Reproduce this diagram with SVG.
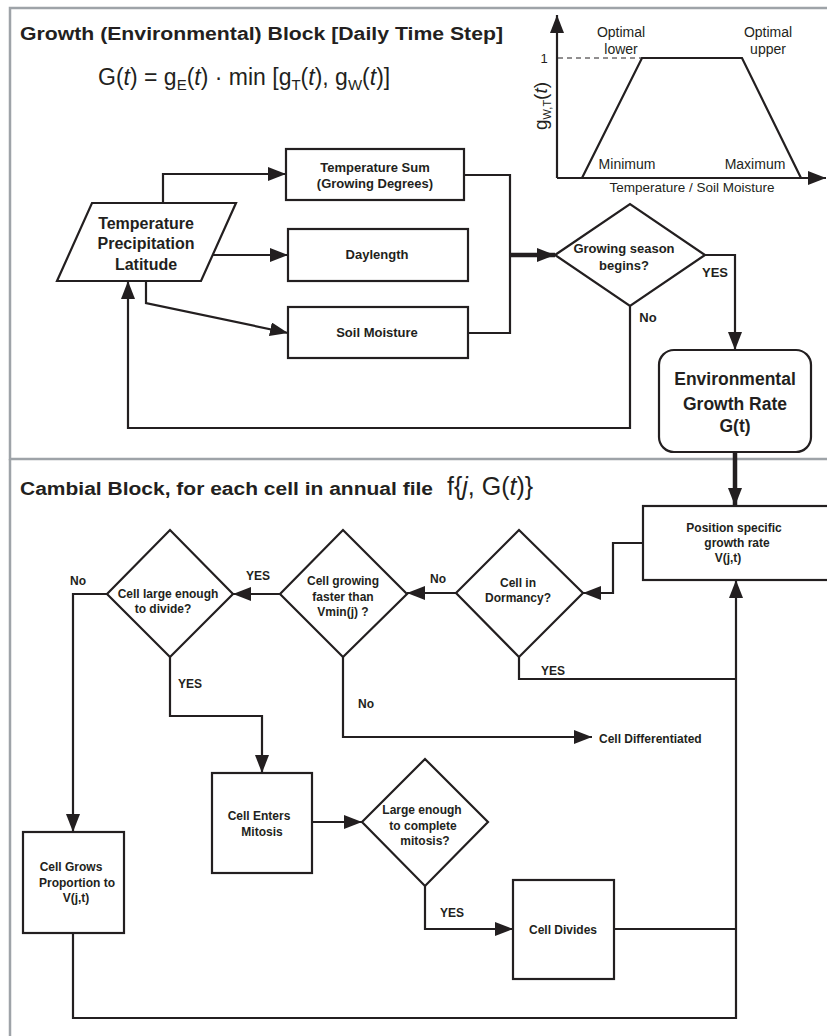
<svg xmlns="http://www.w3.org/2000/svg" width="827" height="1036" viewBox="0 0 827 1036">
<defs>
<style>
.bg{fill:#ffffff}
.panel{fill:none;stroke:#9ea3a8;stroke-width:2.5}
.ln{fill:none;stroke:#231f20;stroke-width:2.2}
.thick{fill:none;stroke:#231f20;stroke-width:4.5}
.box{fill:#ffffff;stroke:#231f20;stroke-width:2.2}
.dash{fill:none;stroke:#231f20;stroke-width:1;stroke-dasharray:5 4}
text{font-family:"Liberation Sans",Arial,sans-serif;fill:#231f20}
.b{font-weight:bold}
.c{text-anchor:middle}
.s12{font-size:12px}
.s13{font-size:13px}
.s14{font-size:14px}
.s16{font-size:16px}
.s17{font-size:17.5px}
.s18{font-size:18px}
.it{font-style:italic}
</style>
<marker id="ah" markerUnits="userSpaceOnUse" markerWidth="18" markerHeight="14" refX="18" refY="7" orient="auto">
<path d="M0,0 L18,7 L0,14 z" fill="#231f20"/>
</marker>
</defs>
<rect class="bg" x="0" y="0" width="827" height="1036"/>

<g id="panels">
<path class="panel" d="M827,8 H10 V459 H827"/>
<path class="panel" d="M10,459 V1036"/>
</g>

<g id="titles">
<text class="b s18" x="20" y="40" textLength="483" lengthAdjust="spacingAndGlyphs">Growth (Environmental) Block [Daily Time Step]</text>
<text x="98" y="85" style="font-size:23px">G(<tspan class="it">t</tspan>) = g<tspan dy="5" style="font-size:15px">E</tspan><tspan dy="-5">(</tspan><tspan class="it">t</tspan>) · min [g<tspan dy="5" style="font-size:15px">T</tspan><tspan dy="-5">(</tspan><tspan class="it">t</tspan>), g<tspan dy="5" style="font-size:15px">W</tspan><tspan dy="-5">(</tspan><tspan class="it">t</tspan>)]</text>
<text class="b s18" x="20" y="495" textLength="413" lengthAdjust="spacingAndGlyphs">Cambial Block, for each cell in annual file</text>
<text x="447" y="495" style="font-size:25px">f{<tspan class="it">j</tspan>, G(<tspan class="it">t</tspan>)}</text>
</g>

<g id="graph">
<path class="ln" d="M557,178 V15" marker-end="url(#ah)"/>
<path class="ln" d="M557,178 H826" marker-end="url(#ah)"/>
<path class="dash" d="M558,58 H642"/>
<path class="ln" d="M582,178 L642,58 H742 L801,178"/>
<text class="s13" x="544" y="63" text-anchor="middle">1</text>
<text class="s14 c" x="621" y="37">Optimal</text>
<text class="s14 c" x="621" y="54">lower</text>
<text class="s14 c" x="768" y="37">Optimal</text>
<text class="s14 c" x="768" y="54">upper</text>
<text class="s14 c" x="627" y="169">Minimum</text>
<text class="s14 c" x="755" y="169">Maximum</text>
<text class="c" x="692" y="192" style="font-size:13.5px">Temperature / Soil Moisture</text>
<text transform="translate(547,106) rotate(-90)" text-anchor="middle" style="font-size:19px">g<tspan dy="4" style="font-size:11px">W,T</tspan><tspan dy="-4">(</tspan><tspan class="it">t</tspan>)</text>
</g>

<g id="connectors">
<path class="ln" d="M163,203 V174 H286" marker-end="url(#ah)"/>
<path class="ln" d="M213,255 H288" marker-end="url(#ah)"/>
<path class="ln" d="M146,281 V303 L288,333" marker-end="url(#ah)"/>
<path class="ln" d="M464,175 H510 V333 H468"/>
<path class="thick" d="M510,255 H555" marker-end="url(#ah)"/>
<path class="ln" d="M705,255 H735 V350" marker-end="url(#ah)"/>
<path class="ln" d="M630,306 V428 H128 V281" marker-end="url(#ah)"/>
<path class="thick" d="M735,452 V506" marker-end="url(#ah)"/>

<path class="ln" d="M643,543 H613 V593 H583" marker-end="url(#ah)"/>
<path class="ln" d="M456,593 H407" marker-end="url(#ah)"/>
<path class="ln" d="M280,594 H233" marker-end="url(#ah)"/>
<path class="ln" d="M107,594 H73 V832" marker-end="url(#ah)"/>
<path class="ln" d="M170,657 V716 H262 V773" marker-end="url(#ah)"/>
<path class="ln" d="M312,822 H362" marker-end="url(#ah)"/>
<path class="ln" d="M425,886 V929 H513" marker-end="url(#ah)"/>
<path class="ln" d="M614,929 H736"/>
<path class="ln" d="M519,657 V679 H736"/>
<path class="ln" d="M73,933 V1018 H736 V580" marker-end="url(#ah)"/>
<path class="ln" d="M343,657 V737 H592" marker-end="url(#ah)"/>

<text class="b s13 c" x="715" y="277">YES</text>
<text class="b s13 c" x="648" y="322">No</text>
<text class="b s12 c" x="438" y="583">No</text>
<text class="b s12 c" x="258" y="580">YES</text>
<text class="b s12 c" x="78" y="585">No</text>
<text class="b s12 c" x="190" y="688">YES</text>
<text class="b s12 c" x="366" y="708">No</text>
<text class="b s12 c" x="553" y="675">YES</text>
<text class="b s12 c" x="452" y="917">YES</text>
<text class="b s12" x="599" y="743">Cell Differentiated</text>
</g>

<g id="inputs">
<polygon class="box" points="92,203 236,203 201,281 57,281"/>
<text class="b s16 c" x="146" y="229">Temperature</text>
<text class="b s16 c" x="146" y="249">Precipitation</text>
<text class="b s16 c" x="146" y="270">Latitude</text>
</g>

<g id="tempsum">
<rect class="box" x="286" y="149" width="178" height="51"/>
<text class="b s13 c" x="375" y="172">Temperature Sum</text>
<text class="b s13 c" x="375" y="188">(Growing Degrees)</text>
</g>

<g id="daylength">
<rect class="box" x="288" y="229" width="180" height="52"/>
<text class="b s13 c" x="377" y="259">Daylength</text>
</g>

<g id="soilmoisture">
<rect class="box" x="288" y="307" width="180" height="51"/>
<text class="b s13 c" x="377" y="337">Soil Moisture</text>
</g>

<g id="season">
<polygon class="box" points="555,255 630,204 705,255 630,306"/>
<text class="b s13 c" x="624" y="253">Growing season</text>
<text class="b s13 c" x="624" y="270">begins?</text>
</g>

<g id="envrate">
<rect class="box" x="659" y="350" width="152" height="102" rx="15" ry="15"/>
<text class="b s17 c" x="735" y="385">Environmental</text>
<text class="b s17 c" x="735" y="410">Growth Rate</text>
<text class="b s17 c" x="735" y="432">G(t)</text>
</g>

<g id="position">
<rect class="box" x="643" y="506" width="200" height="74"/>
<text class="b s12 c" x="734" y="532">Position specific</text>
<text class="b s12 c" x="737" y="547">growth rate</text>
<text class="b s12 c" x="728" y="562">V(j,t)</text>
</g>

<g id="dormancy">
<polygon class="box" points="456,593 519,530 583,593 519,657"/>
<text class="b s12 c" x="518" y="587">Cell in</text>
<text class="b s12 c" x="518" y="602">Dormancy?</text>
</g>

<g id="growing">
<polygon class="box" points="280,594 343,530 407,594 343,657"/>
<text class="b s12 c" x="343" y="585">Cell growing</text>
<text class="b s12 c" x="343" y="601">faster than</text>
<text class="b s12 c" x="343" y="616">Vmin(j) ?</text>
</g>

<g id="large">
<polygon class="box" points="107,594 170,530 233,594 170,657"/>
<text class="b s12 c" x="168" y="598">Cell large enough</text>
<text class="b s12 c" x="163" y="613">to divide?</text>
</g>

<g id="grows">
<rect class="box" x="23" y="832" width="101" height="101"/>
<text class="b s12 c" x="71" y="871">Cell Grows</text>
<text class="b s12 c" x="77" y="887">Proportion to</text>
<text class="b s12 c" x="76" y="902">V(j,t)</text>
</g>

<g id="mitosis">
<rect class="box" x="212" y="773" width="100" height="100"/>
<text class="b s12 c" x="259" y="820">Cell Enters</text>
<text class="b s12 c" x="262" y="836">Mitosis</text>
</g>

<g id="complete">
<polygon class="box" points="362,822 425,759 488,822 425,886"/>
<text class="b s12 c" x="422" y="814">Large enough</text>
<text class="b s12 c" x="423" y="830">to complete</text>
<text class="b s12 c" x="425" y="845">mitosis?</text>
</g>

<g id="divides">
<rect class="box" x="513" y="880" width="101" height="99"/>
<text class="b s12 c" x="563" y="934">Cell Divides</text>
</g>
</svg>
